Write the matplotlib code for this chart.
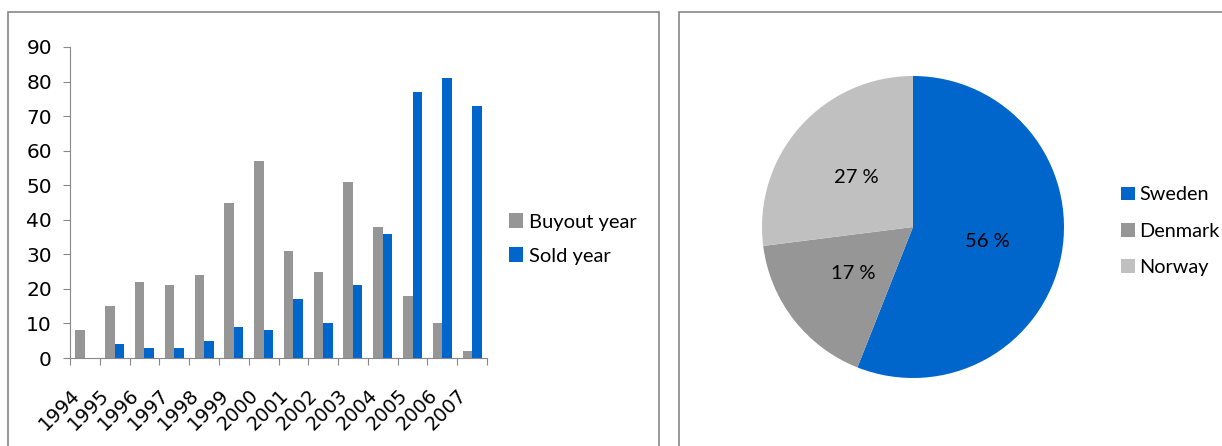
import numpy as np
import matplotlib.pyplot as plt
from matplotlib.patches import Rectangle
import matplotlib.transforms as mtransforms

years = ['1994', '1995', '1996', '1997', '1998', '1999', '2000',
         '2001', '2002', '2003', '2004', '2005', '2006', '2007']
buyout = [8, 15, 22, 21, 24, 45, 57, 31, 25, 51, 38, 18, 10, 2]
sold = [0, 4, 3, 3, 5, 9, 8, 17, 10, 21, 36, 77, 81, 73]

countries = ['Sweden', 'Denmark', 'Norway']
shares = [56, 17, 27]

GREY = '#969696'
BLUE = '#0066cc'
LIGHT = '#c0c0c0'
EDGE = '#888888'

W, H = 1222, 446
fig = plt.figure(figsize=(W / 100, H / 100), dpi=100)


def px(x0, y0, w, h):
    # pixel box (top-left origin) -> figure fraction
    return [x0 / W, 1 - (y0 + h) / H, w / W, h / H]


def fpt(x0, y0):
    return (x0 / W, 1 - y0 / H)


# panel frames
for x0, x1 in [(8, 659), (679, 1260)]:
    fig.patches.append(Rectangle((x0 / W, -0.1), (x1 - x0) / W, 1 - 12 / H + 0.1,
                                 transform=fig.transFigure, fill=False,
                                 edgecolor=EDGE, lw=1.2))

# --- bars ---
ax = fig.add_axes(px(70, 47, 417, 311))
n = len(years)
x = np.arange(n)
bw = 0.32
ax.bar(x - bw / 2, buyout, bw, color=GREY, label='Buyout year')
ax.bar(x + bw / 2, sold, bw, color=BLUE, label='Sold year')
ax.set_xlim(-0.5, n - 0.5)
ax.set_ylim(0, 90)
ax.set_yticks(range(0, 91, 10))
ax.set_xticks(np.arange(n + 1) - 0.5)
ax.set_xticklabels(years + [''], rotation=45, ha='right', va='top',
                   rotation_mode='anchor', fontsize=14, family='DejaVu Sans')
off = mtransforms.ScaledTranslation(2 / 100, 0, fig.dpi_scale_trans)
for lab in ax.get_xticklabels():
    lab.set_transform(lab.get_transform() + off)
ax.tick_params(axis='x', length=5, color=EDGE, pad=15)
ax.tick_params(axis='y', length=5, color=EDGE, pad=8, labelsize=14.5)
for s in ['top', 'right']:
    ax.spines[s].set_visible(False)
for s in ['left', 'bottom']:
    ax.spines[s].set_color(EDGE)
ax.legend(loc='center left', bbox_to_anchor=fpt(509, 239),
          bbox_transform=fig.transFigure, frameon=False, borderpad=0,
          borderaxespad=0, prop={'family': 'Lato', 'size': 14.5},
          handlelength=0.7, handleheight=0.7, handletextpad=0.3,
          labelspacing=0.84)

# --- pie ---
R = 151
pax = fig.add_axes(px(913 - 160, 227 - 160, 320, 320))
wedges, texts, autotexts = pax.pie(
    shares, colors=[BLUE, GREY, LIGHT], startangle=90, counterclock=False,
    radius=R / 160, autopct=lambda p: f'{p:.0f} %', pctdistance=0.5,
    textprops={'family': 'Lato', 'fontsize': 14.5})
pax.set_xlim(-1, 1)
pax.set_ylim(-1, 1)
pax.set_aspect('equal')
pax.legend(wedges, countries, loc='center left', bbox_to_anchor=fpt(1121, 231),
           bbox_transform=fig.transFigure, frameon=False, borderpad=0,
           borderaxespad=0, prop={'family': 'Lato', 'size': 14.3},
           handlelength=0.7, handleheight=0.7, handletextpad=0.22,
           labelspacing=0.96)

fig.savefig('out.png', dpi=100)
